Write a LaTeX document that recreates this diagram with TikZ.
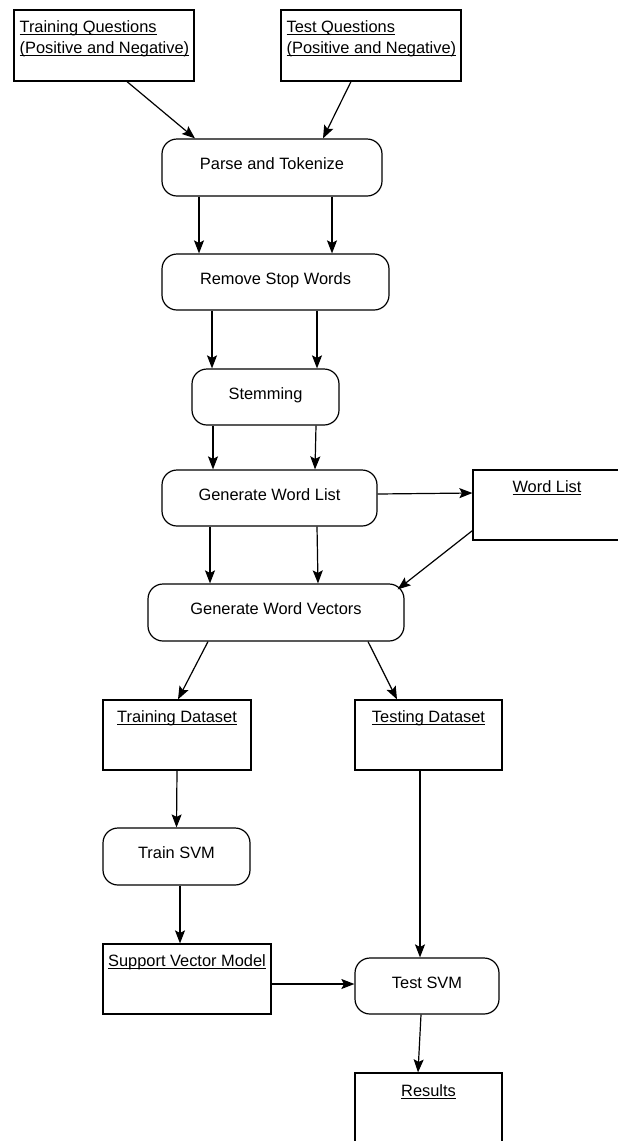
\documentclass[tikz,border=0pt]{standalone}
\usepackage{fontspec}
\setmainfont{Liberation Sans}
\usetikzlibrary{arrows.meta}

\newcommand{\undl}[1]{\leavevmode\setbox0=\hbox{#1}\rlap{\rule[-2.2pt]{\wd0}{0.9pt}}\box0}

\begin{document}
\begin{tikzpicture}[
    x=1pt, y=-1pt,
    font=\fontsize{16.4}{21}\selectfont,
    proc/.style={rectangle, draw, rounded corners=15pt, line width=1.2pt, inner sep=0pt, text height=12pt, text depth=8pt},
    store/.style={rectangle, draw, line width=1.2pt, inner sep=0pt},
    title/.style={anchor=north, inner sep=0pt, yshift=-11pt},
    arr/.style={-{Stealth[length=13pt, width=10pt, inset=2.5pt]}, line width=1.2pt}
]
    \useasboundingbox (0,0) rectangle (618,1141);

    \node[store, minimum width=180pt, minimum height=71pt, label={[title, anchor=north west, align=left, xshift=6pt, yshift=0pt]north west:{\undl{Training Questions}\\\undl{(Positive and Negative)}}}] (trainq) at (104,45.5) {};
    \node[store, minimum width=180pt, minimum height=71pt, label={[title, anchor=north west, align=left, xshift=6pt, yshift=0pt]north west:{\undl{Test Questions}\\\undl{(Positive and Negative)}}}] (testq) at (371,45.5) {};
    \node[proc, minimum width=220pt, minimum height=57pt] (parse) at (272,167.5) {Parse and Tokenize};
    \node[proc, minimum width=227pt, minimum height=56pt] (stop) at (275.5,282) {Remove Stop Words};
    \node[proc, minimum width=147pt, minimum height=56pt] (stem) at (265.5,397) {Stemming};
    \node[proc, minimum width=215pt, minimum height=56pt] (genlist) at (269.5,498) {Generate Word List};
    \node[store, minimum width=152pt, minimum height=70pt, label={[title, xshift=-2pt]north:\undl{Word List}}] (wordlist) at (549,505) {};
    \node[proc, minimum width=256pt, minimum height=57pt] (genvec) at (276,612.5) {Generate Word Vectors};
    \node[store, minimum width=148pt, minimum height=70pt, label={[title]north:\undl{Training Dataset}}] (trainset) at (177,735) {};
    \node[store, minimum width=147pt, minimum height=70pt, label={[title]north:\undl{Testing Dataset}}] (testset) at (428.5,735) {};
    \node[proc, minimum width=147pt, minimum height=57pt] (train) at (176.5,856.5) {Train SVM};
    \node[store, minimum width=168pt, minimum height=70pt, label={[title]north:\undl{Support Vector Model}}] (model) at (187,979) {};
    \node[proc, minimum width=144pt, minimum height=56pt] (test) at (427,986) {Test SVM};
    \node[store, minimum width=147pt, minimum height=78pt, label={[title, yshift=-1pt]north:\undl{Results}}] (results) at (428.5,1112) {};

    \draw[arr] ([xshift=23pt]trainq.south) -- ([xshift=-77pt]parse.north);
    \draw[arr] ([xshift=-20pt]testq.south) -- ([xshift=51pt]parse.north);
    \draw[arr] ([xshift=-73pt]parse.south) -- ([xshift=-76.5pt]stop.north);
    \draw[arr] ([xshift=60pt]parse.south) -- ([xshift=56.5pt]stop.north);
    \draw[arr] ([xshift=-63.5pt]stop.south) -- ([xshift=-53.5pt]stem.north);
    \draw[arr] ([xshift=41.5pt]stop.south) -- ([xshift=51.5pt]stem.north);
    \draw[arr] ([xshift=-52.5pt]stem.south) -- ([xshift=-56.5pt]genlist.north);
    \draw[arr] ([xshift=50.5pt]stem.south) -- ([xshift=45.5pt]genlist.north);
    \draw[arr] ([yshift=4pt]genlist.east) -- ([yshift=12pt]wordlist.west);
    \draw[arr] ([xshift=-59.5pt]genlist.south) -- ([xshift=-66pt]genvec.north);
    \draw[arr] ([xshift=47.5pt]genlist.south) -- ([xshift=42pt]genvec.north);
    \draw[arr] ([yshift=10pt]wordlist.south west) -- ([xshift=-7pt, yshift=-6pt]genvec.north east);
    \draw[arr] ([xshift=-68pt]genvec.south) -- ([xshift=1pt]trainset.north);
    \draw[arr] ([xshift=92pt]genvec.south) -- ([xshift=-31.5pt]testset.north);
    \draw[arr] (trainset.south) -- (train.north);
    \draw[arr] ([xshift=3.5pt]train.south) -- ([xshift=-7pt]model.north);
    \draw[arr] ([yshift=-5pt]model.east) -- ([yshift=2pt]test.west);
    \draw[arr] ([xshift=-8.5pt]testset.south) -- ([xshift=-7pt]test.north);
    \draw[arr] ([xshift=-6pt]test.south) -- ([xshift=-10.5pt]results.north);
\end{tikzpicture}
\end{document}
